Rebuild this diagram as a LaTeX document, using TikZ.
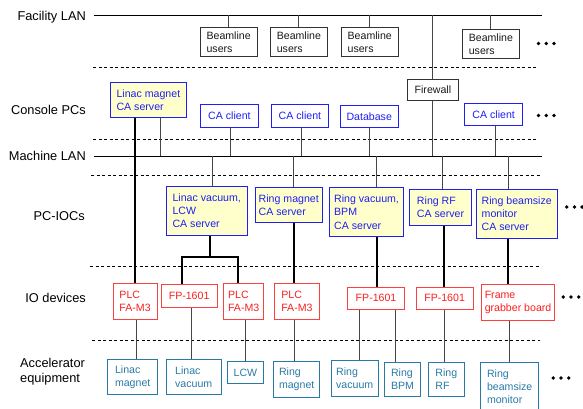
\documentclass[tikz,border=0pt]{standalone}
\usepackage{fontspec}
\setmainfont{Liberation Sans}
\definecolor{cblue}{RGB}{30,30,245}
\definecolor{cyel}{RGB}{255,255,204}
\definecolor{cred}{RGB}{250,30,30}
\definecolor{cteal}{RGB}{40,122,165}
\definecolor{cgray}{RGB}{70,70,70}
\begin{document}
\begin{tikzpicture}[x=1pt,y=-1pt,
  box/.style={draw, line width=0.8pt, inner sep=0pt, anchor=north west, align=left,
    font=\fontsize{10.6}{13.3}\selectfont},
  bkbox/.style={box, draw=black!80, text=black!90},
  pcbox/.style={box, draw=cblue, text=cblue},
  srvbox/.style={pcbox, fill=cyel},
  iobox/.style={box, draw=cred!85, text=cred},
  eqbox/.style={box, draw=cteal, text=cteal},
  lan/.style={line width=0.8pt},
  conn/.style={draw=cgray, line width=0.9pt},
  link/.style={line width=1.8pt, line cap=rect},
  sepline/.style={dash pattern=on 3pt off 2.5pt, line width=0.6pt},
  lbl/.style={font=\fontsize{12.8}{15}\selectfont, anchor=east, inner sep=0pt},
  dotmark/.style={fill=black}
]
\useasboundingbox (0,0) rectangle (583,408);

% level labels
\node[lbl] (lFac) at (86,17) {Facility LAN};
\node[lbl] (lCon) at (86,109.5) {Console PCs};
\node[lbl] (lMac) at (86,156) {Machine LAN};
\node[lbl] (lIoc) at (85,216) {PC-IOCs};
\node[lbl] (lIo)  at (86,297.5) {IO devices};
\node[lbl, anchor=west, align=left] (lAcc) at (20,371.5) {Accelerator\\equipment};

% LAN lines
\coordinate (flanL) at (93.5,15);
\coordinate (flanR) at (542,15);
\coordinate (mlanL) at (93.5,156);
\coordinate (mlanR) at (542,156);
\draw[lan] (flanL) -- (flanR);
\draw[lan] (mlanL) -- (mlanR);

% dashed separators
\coordinate (s1L) at (93,67);   \coordinate (s1R) at (538,67);
\coordinate (s2L) at (93,139);  \coordinate (s2R) at (538,139);
\coordinate (s3L) at (91,175);  \coordinate (s3R) at (540,175);
\coordinate (s4L) at (90,266);  \coordinate (s4R) at (540,266);
\coordinate (s5L) at (92,340);  \coordinate (s5R) at (540,340);
\draw[sepline] (s1L) -- (s1R);
\draw[sepline] (s2L) -- (s2R);
\draw[sepline] (s3L) -- (s3R);
\draw[sepline] (s4L) -- (s4R);
\draw[sepline] (s5L) -- (s5R);

% Beamline users
\node[bkbox, minimum width=57.5, minimum height=29] (bu1) at (199.5,27) {Beamline\\users};
\node[bkbox, minimum width=57, minimum height=29] (bu2) at (270,27) {Beamline\\users};
\node[bkbox, minimum width=57.3, minimum height=29] (bu3) at (340.7,27) {Beamline\\users};
\node[bkbox, minimum width=57.6, minimum height=29] (bu4) at (461.7,29) {Beamline\\users};

% Console PCs
\node[bkbox, minimum width=51.6, minimum height=21] (fw) at (406.7,79) {Firewall};
\node[srvbox, minimum width=76, minimum height=35] (lmsrv) at (110,82) {Linac magnet\\CA server};
\node[pcbox, minimum width=58, minimum height=23] (cac1) at (200,104) {CA client};
\node[pcbox, minimum width=57, minimum height=23] (cac2) at (271,104) {CA client};
\node[pcbox, minimum width=57.7, minimum height=22] (db) at (340,105) {Database};
\node[pcbox, minimum width=58, minimum height=22] (cac3) at (464.3,103) {CA client};

% PC-IOCs
\node[srvbox, minimum width=80.7, minimum height=49] (lvsrv) at (166,186) {Linac vacuum,\\LCW\\CA server};
\node[srvbox, minimum width=66.7, minimum height=35] (rmsrv) at (255,187.3) {Ring magnet\\CA server};
\node[srvbox, minimum width=74.3, minimum height=48.7] (rvsrv) at (329,187.3) {Ring vacuum,\\BPM\\CA server};
\node[srvbox, minimum width=61.7, minimum height=36] (rfsrv) at (409.3,188.7) {Ring RF\\CA server};
\node[srvbox, minimum width=80.7, minimum height=48.4] (rbsrv) at (476,189.3) {Ring beamsize\\monitor\\CA server};

% IO devices
\node[iobox, minimum width=44, minimum height=35.4] (plc1) at (112.7,283.3) {PLC\\FA-M3};
\node[iobox, minimum width=56, minimum height=22.4] (fp1) at (160.7,284.3) {FP-1601};
\node[iobox, minimum width=40, minimum height=35.4] (plc2) at (223.3,283.3) {PLC\\FA-M3};
\node[iobox, minimum width=45, minimum height=35.4] (plc3) at (274,283.3) {PLC\\FA-M3};
\node[iobox, minimum width=56.7, minimum height=22.3] (fp2) at (347.3,286.7) {FP-1601};
\node[iobox, minimum width=57, minimum height=22.3] (fp3) at (415.7,286.7) {FP-1601};
\node[iobox, minimum width=73.3, minimum height=35.7] (fg) at (481,284.3) {Frame\\grabber board};

% Accelerator equipment
\node[eqbox, minimum width=50, minimum height=35] (eq1) at (107.3,359.3) {Linac\\magnet};
\node[eqbox, minimum width=54.7, minimum height=35] (eq2) at (166,359.3) {Linac\\vacuum};
\node[eqbox, minimum width=35.4, minimum height=22] (eq3) at (227.3,361.3) {LCW};
\node[eqbox, minimum width=46, minimum height=35.7] (eq4) at (273.3,361) {Ring\\magnet};
\node[eqbox, minimum width=46.7, minimum height=35.7] (eq5) at (331,360.3) {Ring\\vacuum};
\node[eqbox, minimum width=35.7, minimum height=34] (eq6) at (384.3,362) {Ring\\BPM};
\node[eqbox, minimum width=36.3, minimum height=34] (eq7) at (427.7,362) {Ring\\RF};
\node[eqbox, minimum width=58, minimum height=49] (eq8) at (480.3,361.7) {Ring\\beamsize\\monitor};

% Facility LAN to beamline users / firewall
\draw[conn] (flanL -| 228,0) -- (bu1.north -| 228,0);
\draw[conn] (flanL -| 298,0) -- (bu2.north -| 298,0);
\draw[conn] (flanL -| 369,0) -- (bu3.north -| 369,0);
\draw[conn] (flanL -| 490,0) -- (bu4.north -| 490,0);
\draw[conn] (flanL -| 432.7,0) -- (fw.north -| 432.7,0);
\draw[conn] (fw.south -| 432.7,0) -- (mlanL -| 432.7,0);

% Console PCs to Machine LAN
\draw[conn] (lmsrv.south -| 160,0) -- (mlanL -| 160,0);
\draw[conn] (cac1.south -| 230,0) -- (mlanL -| 230,0);
\draw[conn] (cac2.south -| 301,0) -- (mlanL -| 301,0);
\draw[conn] (db.south -| 369,0) -- (mlanL -| 369,0);
\draw[conn] (cac3.south -| 495,0) -- (mlanL -| 495,0);

% Machine LAN to PC-IOCs
\draw[conn] (mlanL -| 212,0) -- (lvsrv.north -| 212,0);
\draw[conn] (mlanL -| 293.3,0) -- (rmsrv.north -| 293.3,0);
\draw[conn] (mlanL -| 376.7,0) -- (rvsrv.north -| 376.7,0);
\draw[conn] (mlanL -| 442.7,0) -- (rfsrv.north -| 442.7,0);
\draw[conn] (mlanL -| 508,0) -- (rbsrv.north -| 508,0);

% thick links server to IO devices
\draw[link, line cap=butt] (lmsrv.south -| 135,0) -- (plc1.north -| 135,0);
\coordinate (lvj) at (210,256.7);
\draw[link, line cap=butt] (lvsrv.south -| lvj) -- (lvj);
\draw[link, line cap=butt] (fp1.north -| 182.3,0) -- (lvj -| 182.3,0) -- (lvj -| 238.3,0) -- (plc2.north -| 238.3,0);
\draw[link, line cap=butt] (rmsrv.south -| 294,0) -- (plc3.north -| 294,0);
\draw[link, line cap=butt] (rvsrv.south -| 377.3,0) -- (fp2.north -| 377.3,0);
\draw[link, line cap=butt] (rfsrv.south -| 444,0) -- (fp3.north -| 444,0);
\draw[link, line cap=butt] (rbsrv.south -| 508.3,0) -- (fg.north -| 508.3,0);

% IO devices to equipment
\draw[conn] (plc1.south -| 136,0) -- (eq1.north -| 136,0);
\draw[conn] (fp1.south -| 191,0) -- (eq2.north -| 191,0);
\draw[conn] (plc2.south -| 245.7,0) -- (eq3.north -| 245.7,0);
\draw[conn] (plc3.south -| 294.3,0) -- (eq4.north -| 294.3,0);
\draw[conn] (fp2.south -| 359.3,0) -- (eq5.north -| 359.3,0);
\draw[conn] (fp2.south -| 395.3,0) -- (eq6.north -| 395.3,0);
\draw[conn] (fp3.south -| 444.3,0) -- (eq7.north -| 444.3,0);
\draw[conn] (fg.south -| 509.3,0) -- (eq8.north -| 509.3,0);

% continuation dots
\foreach \x in {538.5,546.2,553.9} {
  \fill[dotmark] (\x,43.5) circle (1.9);
  \fill[dotmark] (\x,115.5) circle (1.9);
}
\foreach \x in {566.7,574.4,582.1} \fill[dotmark] (\x,207) circle (1.9);
\foreach \x in {563.3,571,578.7} \fill[dotmark] (\x,297) circle (1.9);
\foreach \x in {553.3,561,568.7} \fill[dotmark] (\x,378) circle (1.9);
\end{tikzpicture}
\end{document}
